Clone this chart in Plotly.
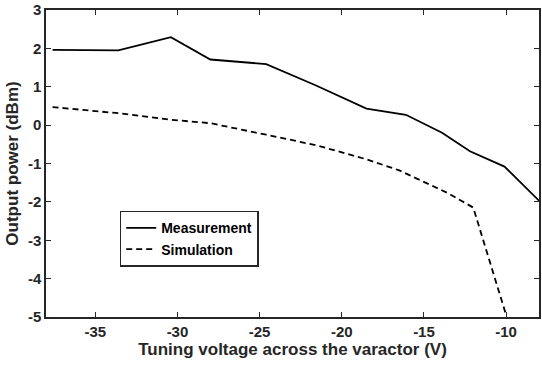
import plotly.graph_objects as go

meas_x = [-37.6, -33.6, -30.4, -28.0, -24.6, -21.6, -18.5, -16.1, -13.9, -12.2, -10.1, -8.0]
meas_y = [1.96, 1.95, 2.29, 1.71, 1.59, 1.04, 0.43, 0.27, -0.20, -0.68, -1.08, -1.97]

sim_x = [-37.6, -33.6, -30.4, -28.0, -24.6, -21.5, -18.5, -16.5, -15.1, -13.5, -12.0, -11.0, -10.0]
sim_y = [0.47, 0.31, 0.14, 0.05, -0.25, -0.53, -0.89, -1.18, -1.46, -1.78, -2.15, -3.55, -4.95]

x_ticks = [-35, -30, -25, -20, -15, -10]
y_ticks = [-5, -4, -3, -2, -1, 0, 1, 2, 3]

FONT = "Liberation Sans, Arial, sans-serif"
AX = "#262626"

fig = go.Figure()
fig.add_trace(go.Scatter(x=meas_x, y=meas_y, mode="lines", name="<b>Measurement</b>",
                         line=dict(color="black", width=1.8)))
fig.add_trace(go.Scatter(x=sim_x, y=sim_y, mode="lines", name="<b>Simulation</b>",
                         line=dict(color="black", width=1.8, dash="6px,4px")))

axis_common = dict(showline=True, linecolor=AX, linewidth=1.5, mirror="allticks",
                   ticks="inside", ticklen=5, tickwidth=1.2, tickcolor=AX,
                   showgrid=False, zeroline=False, ticklabeloverflow="allow",
                   tickfont=dict(family=FONT, size=15, color=AX, weight="bold"))

fig.update_xaxes(range=[-38, -8], tickvals=x_ticks, ticktext=[str(v) for v in x_ticks],
                 title=dict(text="<b>Tuning voltage across the varactor (V)</b>",
                            font=dict(family=FONT, size=17, color=AX), standoff=3),
                 **axis_common)
fig.update_yaxes(range=[-5, 3], tickvals=y_ticks, ticktext=[str(v) for v in y_ticks],
                 title=dict(text="<b>Output power (dBm)</b>",
                            font=dict(family=FONT, size=17, color=AX), standoff=5),
                 **axis_common)

fig.update_layout(
    width=542, height=369,
    margin=dict(l=46, r=1, t=8, b=52),
    paper_bgcolor="white", plot_bgcolor="white",
    showlegend=True,
    legend=dict(x=0.1495, y=0.346, xanchor="left", yanchor="top",
                bgcolor="white", bordercolor=AX, borderwidth=1.5,
                font=dict(family=FONT, size=14, color="black"),
                tracegroupgap=0, itemwidth=30),
)

fig.write_html("out.html")
